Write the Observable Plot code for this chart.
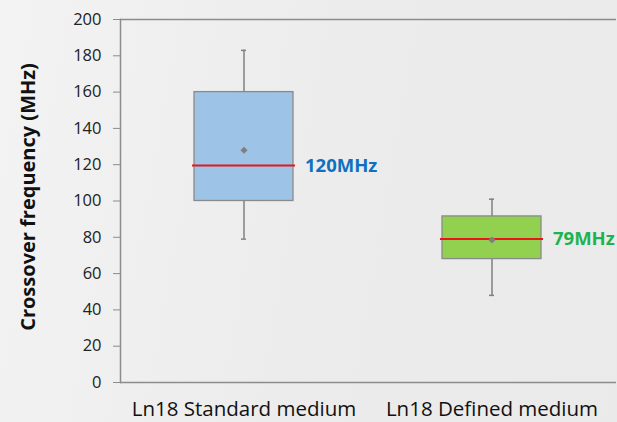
<!DOCTYPE html>
<html>
<head>
<meta charset="utf-8">
<script src="https://cdn.jsdelivr.net/npm/d3@7"></script>
<script src="https://cdn.jsdelivr.net/npm/@observablehq/plot@0.6"></script>
<style>
  html, body { margin: 0; padding: 0; }
  body { width: 617px; height: 422px; overflow: hidden;
         background: linear-gradient(100deg, #f3f3f3 0%, #ececec 50%, #eaeaea 100%); }
  svg { display: block; }
</style>
</head>
<body>
<div id="chart"></div>
<script>
const categories = ["Ln18 Standard medium", "Ln18 Defined medium"];
const whiskerLow = [79, 48];
const q1 = [100, 68];
const median = [119.5, 79];
const q3 = [160, 91.5];
const whiskerHigh = [183, 101];
const mean = [128, 78.5];
const medianLabels = ["120MHz", "79MHz"];
const boxColors = ["#9dc3e6", "#92d050"];
const labelColors = ["#1070c0", "#1db34f"];
const yTicks = [0, 20, 40, 60, 80, 100, 120, 140, 160, 180, 200];

const data = categories.map((c, i) => ({
  cat: c, lo: whiskerLow[i], q1: q1[i], med: median[i], q3: q3[i],
  hi: whiskerHigh[i], mean: mean[i], label: medianLabels[i],
  fill: boxColors[i], lc: labelColors[i]
}));

const font = "'Open Sans', Lato, sans-serif";
const chart = Plot.plot({
  width: 617,
  height: 422,
  marginLeft: 120,
  marginTop: 19,
  marginBottom: 40,
  marginRight: 1,
  style: { background: "transparent", fontFamily: font, color: "#111" },
  x: { domain: categories, paddingInner: 0.6, paddingOuter: 0.3, label: null },
  y: { domain: [0, 200], ticks: yTicks, label: null },
  marks: [
    Plot.ruleY([200], { stroke: "#8c8c8c", strokeWidth: 1.5 }),
    Plot.ruleY([0], { stroke: "#8c8c8c", strokeWidth: 1.5 }),
    Plot.frame({ anchor: "left", stroke: "#8c8c8c", strokeWidth: 1.5 }),
    Plot.axisY({ ticks: yTicks, tickSize: 7, tickPadding: 12, stroke: "#8c8c8c", fontSize: 16.5, fill: "#222" }),
    Plot.axisX({ tickSize: 0, tickPadding: 19, fontSize: 20.5, fill: "#111" }),
    Plot.ruleX(data, { x: "cat", y1: "lo", y2: "q1", stroke: "#808080", strokeWidth: 1.5 }),
    Plot.ruleX(data, { x: "cat", y1: "q3", y2: "hi", stroke: "#808080", strokeWidth: 1.5 }),
    Plot.tickY(data, { x: "cat", y: "lo", stroke: "#808080", strokeWidth: 1.5, insetLeft: 47, insetRight: 47 }),
    Plot.tickY(data, { x: "cat", y: "hi", stroke: "#808080", strokeWidth: 1.5, insetLeft: 47, insetRight: 47 }),
    Plot.barY(data, { x: "cat", y1: "q1", y2: "q3", fill: d => d.fill, stroke: "#8a8a8a", strokeWidth: 1.3 }),
    Plot.tickY(data, { x: "cat", y: "med", stroke: "#e8161b", strokeWidth: 2, insetLeft: -2, insetRight: -2 }),
    Plot.dot(data, { x: "cat", y: "mean", symbol: "diamond2", r: 3.2, fill: "#7f7f7f", stroke: "none" }),
    Plot.text(data, { x: "cat", y: "med", text: "label", fill: d => d.lc, dx: 61, textAnchor: "start", fontWeight: "bold", fontSize: 18.5 }),
    Plot.text(["Crossover frequency (MHz)"], { frameAnchor: "left", dx: -92, dy: -4, rotate: -90, textAnchor: "middle", fontWeight: "bold", fontSize: 20, fill: "#111" })
  ]
});
document.getElementById("chart").append(chart);
</script>
</body>
</html>
